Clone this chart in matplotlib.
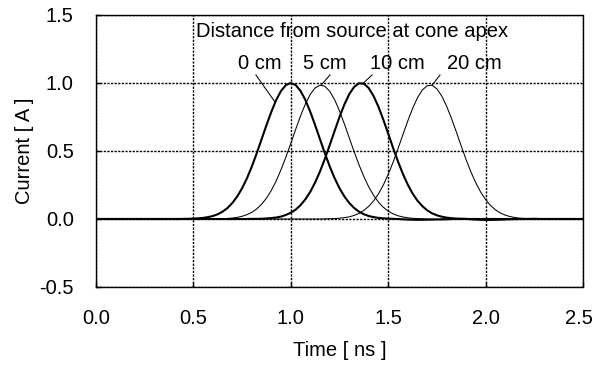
import numpy as np
import matplotlib
matplotlib.use("Agg")
import matplotlib.pyplot as plt
import matplotlib.transforms as mtransforms
from matplotlib.ticker import FormatStrFormatter

# current pulses seen at different distances from the source (cone apex)
time_ns = [0.0,
           0.400, 0.425, 0.450, 0.475, 0.500, 0.525, 0.550, 0.575,
           0.600, 0.625, 0.650, 0.675, 0.700, 0.725, 0.750, 0.775,
           0.800, 0.825, 0.850, 0.875, 0.900, 0.925, 0.950, 0.975,
           1.000, 1.025, 1.050, 1.075, 1.100, 1.125, 1.150, 1.175,
           1.200, 1.225, 1.250, 1.275, 1.300, 1.325, 1.350, 1.375,
           1.400, 1.425, 1.450, 1.475, 1.500, 1.525, 1.550, 1.575,
           1.600, 1.625, 1.650, 1.675, 1.700, 1.725, 1.750, 1.775,
           1.800, 1.825, 1.850, 1.875, 1.900, 1.925, 1.950, 1.975,
           2.000, 2.025, 2.050, 2.075, 2.100, 2.125, 2.150, 2.175,
           2.200, 2.225, 2.250, 2.275, 2.300,
           2.500]

i_0cm = [0.0,
         0.000, 0.000, 0.001, 0.001, 0.003, 0.005, 0.008, 0.014,
         0.022, 0.035, 0.054, 0.081, 0.118, 0.166, 0.226, 0.300,
         0.386, 0.483, 0.586, 0.690, 0.788, 0.875, 0.942, 0.985,
         1.000, 0.985, 0.942, 0.875, 0.788, 0.690, 0.586, 0.483,
         0.386, 0.300, 0.226, 0.166, 0.118, 0.081, 0.054, 0.035,
         0.022, 0.014, 0.008, 0.005, 0.003, 0.001, 0.000, -0.002,
         -0.004, -0.005, -0.006, -0.006, -0.005, -0.004, -0.003, -0.002,
         -0.001, 0.000, 0.000, 0.000, 0.000, 0.000, 0.000, 0.000,
         0.000, 0.000, 0.000, 0.000, 0.000, 0.000, 0.000, 0.000,
         0.000, 0.000, 0.000, 0.000, 0.000,
         0.0]

i_5cm = [0.0,
         0.000, 0.000, 0.000, 0.000, 0.000, 0.000, 0.000, 0.000,
         0.001, 0.001, 0.002, 0.004, 0.007, 0.012, 0.020, 0.032,
         0.049, 0.074, 0.108, 0.153, 0.210, 0.280, 0.363, 0.456,
         0.556, 0.659, 0.758, 0.846, 0.917, 0.964, 0.984, 0.976,
         0.939, 0.877, 0.795, 0.699, 0.597, 0.495, 0.399, 0.312,
         0.236, 0.174, 0.124, 0.086, 0.058, 0.038, 0.024, 0.015,
         0.009, 0.005, 0.003, 0.002, 0.000, -0.002, -0.004, -0.005,
         -0.005, -0.004, -0.003, -0.002, -0.001, 0.000, 0.000, 0.000,
         0.000, 0.000, 0.000, 0.000, 0.000, 0.000, 0.000, 0.000,
         0.000, 0.000, 0.000, 0.000, 0.000,
         0.0]

i_10cm = [0.0,
          0.000, 0.000, 0.000, 0.000, 0.000, 0.000, 0.000, 0.000,
          0.000, 0.000, 0.000, 0.000, 0.000, 0.000, 0.000, 0.000,
          0.001, 0.001, 0.002, 0.004, 0.007, 0.011, 0.018, 0.030,
          0.046, 0.069, 0.102, 0.145, 0.200, 0.269, 0.350, 0.443,
          0.544, 0.648, 0.750, 0.842, 0.918, 0.971, 0.998, 0.995,
          0.963, 0.904, 0.825, 0.730, 0.628, 0.523, 0.424, 0.333,
          0.254, 0.188, 0.135, 0.095, 0.064, 0.042, 0.027, 0.017,
          0.010, 0.006, 0.003, 0.002, 0.001, -0.002, -0.004, -0.006,
          -0.007, -0.007, -0.006, -0.005, -0.003, -0.002, -0.001, 0.000,
          0.000, 0.000, 0.000, 0.000, 0.000,
          0.0]

i_20cm = [0.0,
          0.000, 0.000, 0.000, 0.000, 0.000, 0.000, 0.000, 0.000,
          0.000, 0.000, 0.000, 0.000, 0.000, 0.000, 0.000, 0.000,
          0.000, 0.000, 0.000, 0.000, 0.000, 0.000, 0.000, 0.000,
          0.000, 0.000, 0.000, 0.000, 0.000, 0.000, 0.000, 0.001,
          0.002, 0.003, 0.006, 0.010, 0.016, 0.026, 0.041, 0.063,
          0.093, 0.133, 0.185, 0.250, 0.328, 0.417, 0.516, 0.618,
          0.719, 0.812, 0.891, 0.948, 0.980, 0.983, 0.957, 0.904,
          0.829, 0.739, 0.639, 0.536, 0.436, 0.345, 0.265, 0.197,
          0.143, 0.100, 0.068, 0.045, 0.029, 0.018, 0.011, 0.006,
          0.004, 0.004, 0.005, 0.004, 0.002,
          0.0]

distances = ["0 cm", "5 cm", "10 cm", "20 cm"]
currents = [i_0cm, i_5cm, i_10cm, i_20cm]
thick = [True, False, True, False]

plt.rcParams.update({"font.family": "Liberation Sans", "font.size": 14.5})

fig = plt.figure(figsize=(5.95, 3.68), dpi=100)
ax = fig.add_axes([96 / 595, 1 - 287 / 368, 487 / 595, 272 / 368])

dots = (0, (1.6, 1.0))
ax.grid(True, color="black", linestyle=dots, lw=1.0, zorder=0)
ax.set_axisbelow(True)

for cur, bold in zip(currents, thick):
    ax.plot(time_ns, cur, color="black", lw=1.5 if bold else 0.75,
            solid_joinstyle="round", zorder=3)

# labels with short leader lines to each pulse
label_x = [0.842, 1.175, 1.546, 1.94]
lead_from = [0.821, 1.201, 1.417, 1.766]
lead_to = [0.92, 1.155, 1.37, 1.725]
for name, cur, lx, fx, tx in zip(distances, currents, label_x, lead_from, lead_to):
    ax.text(lx, 1.147, name, ha="center", va="center")
    ty = np.interp(tx, time_ns, cur)
    ax.plot([fx, tx], [1.059, ty], color="black", lw=0.75, zorder=4)

ax.text(1.314, 1.382, "Distance from source at cone apex", ha="center", va="center")

ax.set_xlim(0, 2.5)
ax.set_ylim(-0.5, 1.5)
ax.set_xticks([0.0, 0.5, 1.0, 1.5, 2.0, 2.5])
ax.set_yticks([-0.5, 0.0, 0.5, 1.0, 1.5])
ax.xaxis.set_major_formatter(FormatStrFormatter("%.1f"))
ax.yaxis.set_major_formatter(FormatStrFormatter("%.1f"))
ax.tick_params(direction="in", length=3.5, width=1.0, color="black", pad=16)

# keep the last x label inside the figure
last = ax.get_xticklabels()[-1]
last.set_transform(last.get_transform() +
                   mtransforms.ScaledTranslation(-4 / 100, 0, fig.dpi_scale_trans))

for side in ["top", "right", "bottom"]:
    ax.spines[side].set_linestyle(dots)
    ax.spines[side].set_linewidth(1.0)
ax.spines["left"].set_linewidth(1.0)

ax.set_xlabel("Time [ ns ]", labelpad=9)
ax.set_ylabel("Current [ A ]", labelpad=4)

fig.savefig("out.png", dpi=100)
